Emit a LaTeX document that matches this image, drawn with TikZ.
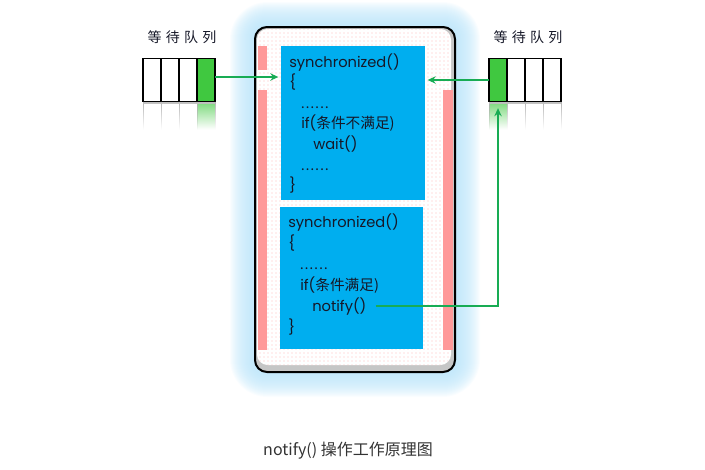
\documentclass[tikz,border=0pt]{standalone}
\usepackage{fontspec}
\setmainfont{Poppins}
\newfontfamily\cjk{Noto Sans CJK SC}
\newfontfamily\qfont[LetterSpace=30]{Noto Sans CJK SC}
\usetikzlibrary{arrows.meta,positioning,patterns,fadings}
\definecolor{codeblue}{RGB}{0,174,239}
\definecolor{barpink}{RGB}{255,153,153}
\definecolor{qgreen}{RGB}{64,200,64}
\definecolor{flowgreen}{RGB}{24,172,84}
\definecolor{glowblue}{RGB}{185,228,250}
\definecolor{ink}{RGB}{22,24,40}
\newcommand{\elide}{.\kern1.3pt.\kern1.3pt.\kern1.3pt.\kern1.3pt.\kern1.3pt.}
\tikzset{
  cell/.style={draw, line width=0.8pt, fill=white, minimum width=13.5pt, minimum height=32.25pt, inner sep=0pt, outer sep=0pt},
  codebox/.style={fill=codeblue, inner sep=0pt, outer sep=0pt},
  codeline/.style={anchor=base west, inner sep=0pt, text=ink, font=\fontsize{11}{13}\selectfont},
  qlabel/.style={text=ink, font=\qfont\fontsize{10.5}{12}\selectfont},
  flow/.style={-{Stealth[length=6pt, width=5.5pt]}, line width=1.5pt, draw=flowgreen},
  bar/.style={fill=barpink},
}
\begin{document}
\begin{tikzpicture}[x=0.75pt, y=-0.75pt, node distance=0pt]
  \useasboundingbox (0,0) rectangle (705,469);
  \foreach \i in {0,...,25}
    \fill[glowblue, opacity=0.07, rounded corners={(8+0.8*\i)*1pt}] ({255-\i},{27-\i}) rectangle ({455+\i},{372+\i});
  \fill[gray!45, rounded corners=9pt] (255,27) rectangle (455,372);
  \fill[white, rounded corners=8pt] (257,29) rectangle (451,365);
  \fill[pattern=dots, pattern color=barpink!65, rounded corners=8pt] (257,29) rectangle (451,365);
  \fill[bar] (258,46) rectangle (267,70);
  \fill[bar] (258,90) rectangle (267,350);
  \fill[bar] (443,90) rectangle (453,350);
  \draw[line width=1.5pt, rounded corners=9pt] (255,27) rectangle (455,372);

  \node[codebox, minimum width=108pt, minimum height=115.5pt] (waitbox) at (353,123) {};
  \node[codebox, minimum width=107.25pt, minimum height=106.5pt] (notifybox) at (351.5,278) {};
  \foreach \d/\t [count=\i] in {0/{synchronized()}, 0/\{, 1/\elide, 1/{if(\cjk 条件不满足)}, 2/{wait()}, 1/\elide, 0/\}}
    \node[codeline] (w\i) at ({289+12*\d},{67+20.6*(\i-1)}) {\t};
  \foreach \d/\t [count=\i] in {0/{synchronized()}, 0/\{, 1/\elide, 1/{if(\cjk 条件满足)}, 2/{notify()}, 0/\}}
    \node[codeline] (n\i) at ({288+12*\d},{227+21*(\i-1)}) {\t};

  \node[qlabel] (lqlabel) at (182,37) {等待队列};
  \node[cell] (lq1) at (152,80) {};
  \node[cell, right=of lq1] (lq2) {};
  \node[cell, right=of lq2] (lq3) {};
  \node[cell, right=of lq3, fill=qgreen] (lq4) {};
  \node[qlabel] (rqlabel) at (528,37) {等待队列};
  \node[cell, fill=qgreen] (rq1) at (498,80) {};
  \node[cell, right=of rq1] (rq2) {};
  \node[cell, right=of rq2] (rq3) {};
  \node[cell, right=of rq3] (rq4) {};

  \begin{scope}
    \path[scope fading=south] (lq1.south west) rectangle ++(72,28);
    \fill[qgreen!70] (lq4.south west) rectangle ++(18,28);
    \foreach \c in {lq1,lq2,lq3,lq4} \draw[gray!60] (\c.south west) -- ++(0,28);
    \draw[gray!60] (lq4.south east) -- ++(0,28);
    \draw[gray!50, line width=1pt] (lq1.south west) ++(0,1.5) -- ++(72,0);
  \end{scope}
  \begin{scope}
    \path[scope fading=south] (rq1.south west) rectangle ++(72,28);
    \fill[qgreen!70] (rq1.south west) rectangle ++(18,28);
    \foreach \c in {rq1,rq2,rq3,rq4} \draw[gray!60] (\c.south west) -- ++(0,28);
    \draw[gray!60] (rq4.south east) -- ++(0,28);
    \draw[gray!50, line width=1pt] (rq1.south west) ++(0,1.5) -- ++(72,0);
  \end{scope}

  \draw[flow, shorten >=2pt] ([yshift=2.25pt]lq4.east) -- ([yshift=2.25pt]lq4.east -| waitbox.west);
  \draw[flow, shorten >=2pt] (rq1.west) -- (rq1.west -| waitbox.east);
  \draw[flow, shorten <=7pt, shorten >=5pt] (n5.east) -| (rq1.south);

  \node[font=\cjk\fontsize{12}{14}\selectfont, text=black!80] (caption) at (348,451) {notify() 操作工作原理图};
\end{tikzpicture}
\end{document}
